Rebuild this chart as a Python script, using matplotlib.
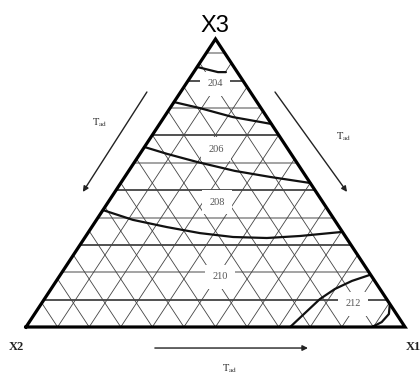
import numpy as np
import matplotlib
matplotlib.use("Agg")
import matplotlib.pyplot as plt

plt.rcParams['mathtext.fontset'] = 'stix'

# ---- data (ternary compositions: X1, X3 ; X2 = 1 - X1 - X3) ----
contour_levels = [204, 206, 208, 210, 212, 214]
c204_x1 = [0.000, 0.039, 0.064, 0.085]
c204_x3 = [0.903, 0.892, 0.885, 0.885]
c206_x1 = [0.000, 0.079, 0.181, 0.295]
c206_x3 = [0.781, 0.760, 0.729, 0.705]
c208_x1 = [0.000, 0.072, 0.165, 0.280, 0.384, 0.500]
c208_x3 = [0.625, 0.601, 0.573, 0.542, 0.521, 0.500]
c210_x1 = [0.000, 0.096, 0.198, 0.296, 0.390, 0.481, 0.565, 0.668]
c210_x3 = [0.406, 0.372, 0.347, 0.326, 0.3125, 0.309, 0.316, 0.330]
c212_x1 = [0.697, 0.713, 0.727, 0.749, 0.780, 0.817]
c212_x3 = [0.000, 0.052, 0.097, 0.132, 0.160, 0.181]
c214_x1 = [0.913, 0.930, 0.935, 0.920]
c214_x3 = [0.000, 0.017, 0.045, 0.080]

label_text = ["204", "206", "208", "210", "212"]
label_x1 = [0.077, 0.192, 0.287, 0.425, 0.823]
label_x3 = [0.844, 0.618, 0.434, 0.174, 0.080]

grid_x3 = [0.095 * k for k in range(1, 11)]
grid_x1 = [k / 12 for k in range(1, 12)]
grid_x2 = [k / 12 for k in range(1, 12)]

vertex_names = ["X1", "X2", "X3"]
arrow_label = r"$\mathrm{T_{ad}}$"


def cart(x1, x3):
    x1 = np.asarray(x1, float)
    x3 = np.asarray(x3, float)
    return x1 + x3 / 2.0, x3


fig = plt.figure(figsize=(4.2, 3.74), dpi=100)
ax = fig.add_axes([0, 0, 1, 1])
ax.set_xlim(-26 / 379, 394 / 379)
ax.set_ylim(-47 / 288, 327 / 288)
ax.axis('off')

# grid: constant X3 (horizontal), alternating dark / grey
for k, c in enumerate(grid_x3):
    xs, ys = cart([0, 1 - c], [c, c])
    col = '#222222' if k % 2 == 0 else '#8a8a8a'
    ax.plot(xs, ys, color=col, lw=1.1, zorder=1, solid_capstyle='butt')
# constant X1
for c in grid_x1:
    xs, ys = cart([c, c], [0, 1 - c])
    ax.plot(xs, ys, color='#444444', lw=0.6, zorder=1)
# constant X2
for c in grid_x2:
    xs, ys = cart([1 - c, 0], [0, 1 - c])
    ax.plot(xs, ys, color='#444444', lw=0.6, zorder=1)

# contour lines
for x1s, x3s in [(c204_x1, c204_x3), (c206_x1, c206_x3), (c208_x1, c208_x3),
                 (c210_x1, c210_x3), (c212_x1, c212_x3), (c214_x1, c214_x3)]:
    xs, ys = cart(x1s, x3s)
    ax.plot(xs, ys, color='#111111', lw=1.6, zorder=3, solid_capstyle='round')

# contour labels
for t, a, c in zip(label_text, label_x1, label_x3):
    xs, ys = cart(a, c)
    ax.text(xs, ys, t, ha='center', va='center', fontsize=7.5,
            family='Liberation Serif', color='#555555', zorder=2,
            bbox=dict(boxstyle='square,pad=0.7', fc='white', ec='none'))

# outer triangle
tx, ty = cart([0, 1, 0, 0], [0, 0, 1, 0])
ax.plot(tx, ty, color='black', lw=2.3, zorder=4, solid_joinstyle='miter')

# vertex labels
ax.text(0.499, 1.024, vertex_names[2], ha='center', va='baseline',
        fontsize=17, family='Liberation Sans')
ax.text(-0.026, -0.069, vertex_names[1], ha='center', va='center',
        fontsize=9, family='Liberation Serif', fontweight='bold', color='#222222')
ax.text(1.003, -0.069, vertex_names[0], ha='left', va='center',
        fontsize=9, family='Liberation Serif', fontweight='bold', color='#222222')

# direction arrows
arrows = [((0.319, 0.816), (0.150, 0.469)),
          ((0.657, 0.816), (0.847, 0.469)),
          ((0.340, -0.073), (0.744, -0.073))]
for start, tip in arrows:
    ax.annotate('', xy=tip, xytext=start,
                arrowprops=dict(arrowstyle='-|>', lw=1.0, color='#222222',
                                mutation_scale=8, shrinkA=0, shrinkB=0))
for (x, y) in [(0.195, 0.708), (0.839, 0.660), (0.538, -0.146)]:
    ax.text(x, y, arrow_label, ha='center', va='center', fontsize=7.5,
            color='#333333')

fig.savefig('out.png', dpi=100)
